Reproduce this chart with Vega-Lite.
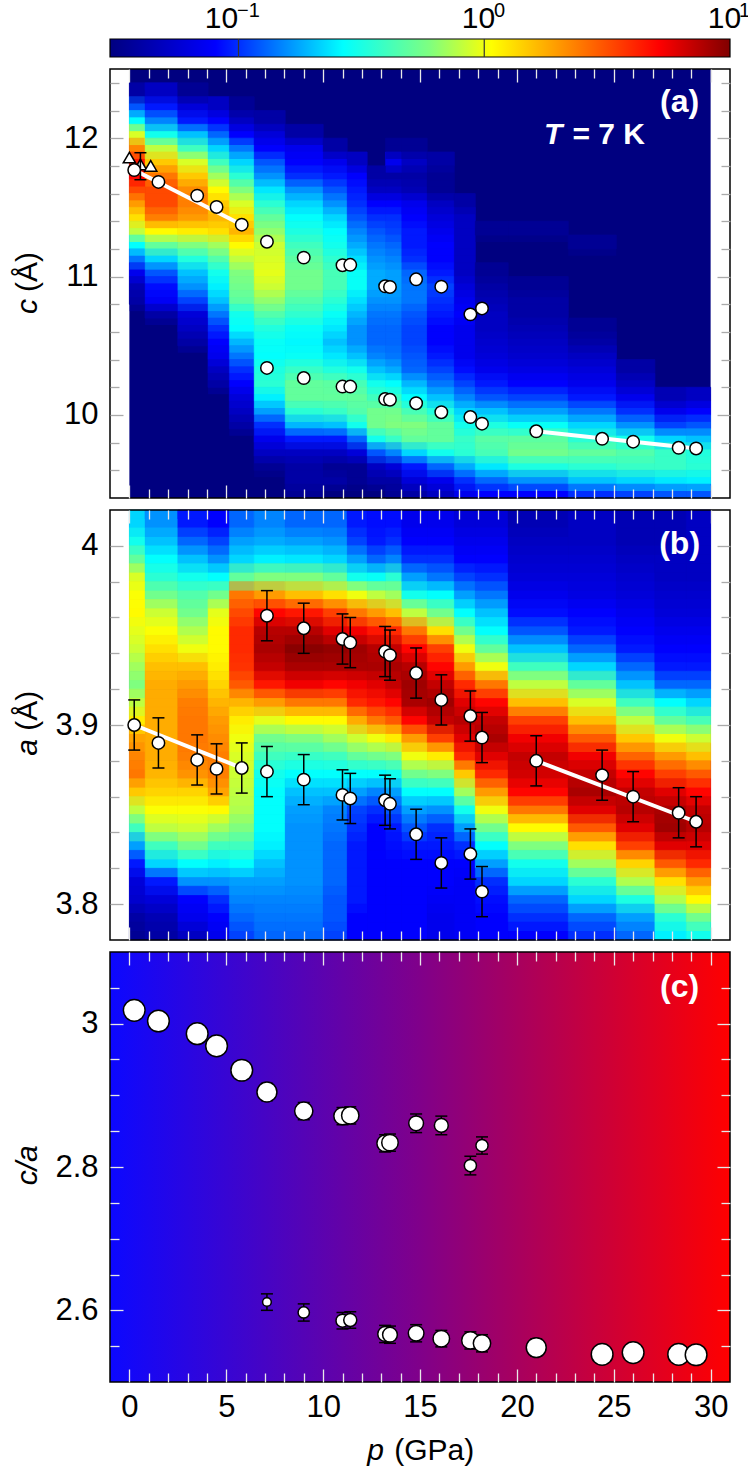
{
"$schema":"https://vega.github.io/schema/vega-lite/v6.json",
"description":"Pressure dependence of lattice parameters at T = 7 K.",
"background":"white",
"padding":{"left":12,"top":1,"right":0,"bottom":0},
"bounds":"flush",
"spacing":12,
"config":{"view":{"stroke":null},"axis":{"domain":false,"grid":false,"labelFont":"Liberation Sans","labelFontSize":31,"labelColor":"#000","title":null,"tickWidth":1.3},"axisX":{"tickColor":"#e8e8e8"},"axisY":{"tickColor":"#aaaaaa"},"text":{"font":"Liberation Sans"}},
"datasets":{
"cols":[{"c":0,"p0":0,"p1":0.81},{"c":1,"p0":0.81,"p1":2.5},{"c":2,"p0":2.5,"p1":4.06},{"c":3,"p0":4.06,"p1":5.16},{"c":4,"p0":5.16,"p1":6.44},{"c":5,"p0":6.44,"p1":8.04},{"c":6,"p0":8.04,"p1":10},{"c":7,"p0":10,"p1":11.24},{"c":8,"p0":11.24,"p1":12.27},{"c":9,"p0":12.27,"p1":13.23},{"c":10,"p0":13.23,"p1":14.06},{"c":11,"p0":14.06,"p1":15.37},{"c":12,"p0":15.37,"p1":16.77},{"c":13,"p0":16.77,"p1":17.85},{"c":14,"p0":17.85,"p1":19.55},{"c":15,"p0":19.55,"p1":22.65},{"c":16,"p0":22.65,"p1":25.13},{"c":17,"p0":25.13,"p1":27.12},{"c":18,"p0":27.12,"p1":28.74},{"c":19,"p0":28.74,"p1":30}],
"rowsA":[{"y":12.35,"y0":12.3,"y1":12.4,"s0":12.25,"s1":12.35},{"y":12.25,"y0":12.2,"y1":12.3,"s0":12.15,"s1":12.25},{"y":12.15,"y0":12.1,"y1":12.2,"s0":12.05,"s1":12.15},{"y":12.05,"y0":12,"y1":12.1,"s0":11.95,"s1":12.05},{"y":11.95,"y0":11.9,"y1":12,"s0":11.85,"s1":11.95},{"y":11.85,"y0":11.8,"y1":11.9,"s0":11.75,"s1":11.85},{"y":11.75,"y0":11.7,"y1":11.8,"s0":11.65,"s1":11.75},{"y":11.65,"y0":11.6,"y1":11.7,"s0":11.55,"s1":11.65},{"y":11.55,"y0":11.5,"y1":11.6,"s0":11.45,"s1":11.55},{"y":11.45,"y0":11.4,"y1":11.5,"s0":11.35,"s1":11.45},{"y":11.35,"y0":11.3,"y1":11.4,"s0":11.25,"s1":11.35},{"y":11.25,"y0":11.2,"y1":11.3,"s0":11.15,"s1":11.25},{"y":11.15,"y0":11.1,"y1":11.2,"s0":11.05,"s1":11.15},{"y":11.05,"y0":11,"y1":11.1,"s0":10.95,"s1":11.05},{"y":10.95,"y0":10.9,"y1":11,"s0":10.85,"s1":10.95},{"y":10.85,"y0":10.8,"y1":10.9,"s0":10.75,"s1":10.85},{"y":10.75,"y0":10.7,"y1":10.8,"s0":10.65,"s1":10.75},{"y":10.65,"y0":10.6,"y1":10.7,"s0":10.55,"s1":10.65},{"y":10.55,"y0":10.5,"y1":10.6,"s0":10.45,"s1":10.55},{"y":10.45,"y0":10.4,"y1":10.5,"s0":10.35,"s1":10.45},{"y":10.35,"y0":10.3,"y1":10.4,"s0":10.25,"s1":10.35},{"y":10.25,"y0":10.2,"y1":10.3,"s0":10.15,"s1":10.25},{"y":10.15,"y0":10.1,"y1":10.2,"s0":10.05,"s1":10.15},{"y":10.05,"y0":10,"y1":10.1,"s0":9.95,"s1":10.05},{"y":9.95,"y0":9.9,"y1":10,"s0":9.85,"s1":9.95},{"y":9.85,"y0":9.8,"y1":9.9,"s0":9.75,"s1":9.85},{"y":9.75,"y0":9.7,"y1":9.8,"s0":9.65,"s1":9.75},{"y":9.65,"y0":9.6,"y1":9.7,"s0":9.55,"s1":9.65},{"y":9.55,"y0":9.5,"y1":9.6,"s0":9.45,"s1":9.55},{"y":9.45,"y0":9.4,"y1":9.5,"s0":9.4,"s1":9.45}],
"rowsB":[{"y":4.015,"y0":4.01,"y1":4.02,"s0":4.005,"s1":4.015},{"y":4.005,"y0":4,"y1":4.01,"s0":3.995,"s1":4.005},{"y":3.995,"y0":3.99,"y1":4,"s0":3.985,"s1":3.995},{"y":3.985,"y0":3.98,"y1":3.99,"s0":3.975,"s1":3.985},{"y":3.975,"y0":3.97,"y1":3.98,"s0":3.965,"s1":3.975},{"y":3.965,"y0":3.96,"y1":3.97,"s0":3.955,"s1":3.965},{"y":3.955,"y0":3.95,"y1":3.96,"s0":3.945,"s1":3.955},{"y":3.945,"y0":3.94,"y1":3.95,"s0":3.935,"s1":3.945},{"y":3.935,"y0":3.93,"y1":3.94,"s0":3.925,"s1":3.935},{"y":3.925,"y0":3.92,"y1":3.93,"s0":3.915,"s1":3.925},{"y":3.915,"y0":3.91,"y1":3.92,"s0":3.905,"s1":3.915},{"y":3.905,"y0":3.9,"y1":3.91,"s0":3.895,"s1":3.905},{"y":3.895,"y0":3.89,"y1":3.9,"s0":3.885,"s1":3.895},{"y":3.885,"y0":3.88,"y1":3.89,"s0":3.875,"s1":3.885},{"y":3.875,"y0":3.87,"y1":3.88,"s0":3.865,"s1":3.875},{"y":3.865,"y0":3.86,"y1":3.87,"s0":3.855,"s1":3.865},{"y":3.855,"y0":3.85,"y1":3.86,"s0":3.845,"s1":3.855},{"y":3.845,"y0":3.84,"y1":3.85,"s0":3.835,"s1":3.845},{"y":3.835,"y0":3.83,"y1":3.84,"s0":3.825,"s1":3.835},{"y":3.825,"y0":3.82,"y1":3.83,"s0":3.815,"s1":3.825},{"y":3.815,"y0":3.81,"y1":3.82,"s0":3.805,"s1":3.815},{"y":3.805,"y0":3.8,"y1":3.81,"s0":3.795,"s1":3.805},{"y":3.795,"y0":3.79,"y1":3.8,"s0":3.785,"s1":3.795},{"y":3.785,"y0":3.78,"y1":3.79,"s0":3.78,"s1":3.785}],
"ptsB":[{"p":0.25,"a":3.9,"lo":3.886,"hi":3.914},{"p":1.5,"a":3.89,"lo":3.876,"hi":3.904},{"p":3.5,"a":3.8805,"lo":3.8665,"hi":3.8945},{"p":4.5,"a":3.8755,"lo":3.8615,"hi":3.8895},{"p":5.8,"a":3.876,"lo":3.862,"hi":3.89},{"p":7.1,"a":3.874,"lo":3.86,"hi":3.888},{"p":9,"a":3.8695,"lo":3.8555,"hi":3.8835},{"p":11,"a":3.861,"lo":3.847,"hi":3.875},{"p":11.4,"a":3.859,"lo":3.845,"hi":3.873},{"p":13.2,"a":3.858,"lo":3.844,"hi":3.872},{"p":13.45,"a":3.856,"lo":3.842,"hi":3.87},{"p":14.8,"a":3.839,"lo":3.825,"hi":3.853},{"p":16.1,"a":3.823,"lo":3.809,"hi":3.837},{"p":17.6,"a":3.828,"lo":3.814,"hi":3.842},{"p":18.2,"a":3.807,"lo":3.793,"hi":3.821},{"p":7.1,"a":3.961,"lo":3.947,"hi":3.975},{"p":9,"a":3.954,"lo":3.94,"hi":3.968},{"p":11,"a":3.948,"lo":3.934,"hi":3.962},{"p":11.4,"a":3.946,"lo":3.932,"hi":3.96},{"p":13.2,"a":3.941,"lo":3.927,"hi":3.955},{"p":13.45,"a":3.939,"lo":3.925,"hi":3.953},{"p":14.8,"a":3.929,"lo":3.915,"hi":3.943},{"p":16.1,"a":3.914,"lo":3.9,"hi":3.928},{"p":17.6,"a":3.905,"lo":3.891,"hi":3.919},{"p":18.2,"a":3.893,"lo":3.879,"hi":3.907},{"p":21,"a":3.88,"lo":3.866,"hi":3.894},{"p":24.4,"a":3.872,"lo":3.858,"hi":3.886},{"p":26,"a":3.86,"lo":3.846,"hi":3.874},{"p":28.35,"a":3.851,"lo":3.837,"hi":3.865},{"p":29.25,"a":3.846,"lo":3.832,"hi":3.86}],
"ptsC":[{"p":0.25,"r":3.0186,"lo":3.0066,"hi":3.0306,"w":25},{"p":1.5,"r":3.0037,"lo":2.9917,"hi":3.0157,"w":25},{"p":3.5,"r":2.986,"lo":2.974,"hi":2.998,"w":25},{"p":4.5,"r":2.969,"lo":2.957,"hi":2.981,"w":25},{"p":5.8,"r":2.935,"lo":2.923,"hi":2.947,"w":25},{"p":7.1,"r":2.9046,"lo":2.8926,"hi":2.9166,"w":23},{"p":9,"r":2.878,"lo":2.866,"hi":2.89,"w":21},{"p":11,"r":2.871,"lo":2.859,"hi":2.883,"w":20},{"p":11.4,"r":2.872,"lo":2.86,"hi":2.884,"w":20},{"p":13.2,"r":2.833,"lo":2.821,"hi":2.845,"w":19},{"p":13.45,"r":2.834,"lo":2.822,"hi":2.846,"w":19},{"p":14.8,"r":2.861,"lo":2.848,"hi":2.874,"w":17},{"p":16.1,"r":2.858,"lo":2.845,"hi":2.871,"w":16},{"p":17.6,"r":2.802,"lo":2.789,"hi":2.815,"w":14},{"p":18.2,"r":2.83,"lo":2.818,"hi":2.842,"w":14},{"p":7.1,"r":2.6116,"lo":2.6,"hi":2.623,"w":10},{"p":9,"r":2.597,"lo":2.585,"hi":2.609,"w":13},{"p":11,"r":2.5856,"lo":2.574,"hi":2.597,"w":15},{"p":11.4,"r":2.5865,"lo":2.575,"hi":2.598,"w":15},{"p":13.2,"r":2.567,"lo":2.555,"hi":2.579,"w":17},{"p":13.45,"r":2.566,"lo":2.554,"hi":2.578,"w":17},{"p":14.8,"r":2.568,"lo":2.556,"hi":2.58,"w":18},{"p":16.1,"r":2.5605,"lo":2.549,"hi":2.572,"w":19},{"p":17.6,"r":2.558,"lo":2.546,"hi":2.57,"w":20},{"p":18.2,"r":2.554,"lo":2.542,"hi":2.566,"w":20},{"p":21,"r":2.548,"lo":2.536,"hi":2.56,"w":23},{"p":24.4,"r":2.5385,"lo":2.527,"hi":2.55,"w":25},{"p":26,"r":2.541,"lo":2.529,"hi":2.553,"w":25},{"p":28.35,"r":2.5385,"lo":2.527,"hi":2.55,"w":25},{"p":29.25,"r":2.538,"lo":2.526,"hi":2.55,"w":25}],
"heatA":[
{"c":0,"y":12.35,"v":0.04},{"c":0,"y":12.25,"v":0.12},{"c":0,"y":12.15,"v":0.27},{"c":0,"y":12.05,"v":0.9},{"c":0,"y":11.95,"v":2.3},{"c":0,"y":11.85,"v":4.5},{"c":0,"y":11.75,"v":5},{"c":0,"y":11.65,"v":3.3},{"c":0,"y":11.55,"v":2},{"c":0,"y":11.45,"v":1.3},{"c":0,"y":11.35,"v":0.8},{"c":0,"y":11.25,"v":0.27},{"c":0,"y":11.15,"v":0.14},{"c":0,"y":11.05,"v":0.07},{"c":0,"y":10.95,"v":0.045},{"c":0,"y":10.85,"v":0.04},
{"c":1,"y":12.35,"v":0.05},{"c":1,"y":12.25,"v":0.09},{"c":1,"y":12.15,"v":0.15},{"c":1,"y":12.05,"v":0.3},{"c":1,"y":11.95,"v":0.8},{"c":1,"y":11.85,"v":1.5},{"c":1,"y":11.75,"v":2.5},{"c":1,"y":11.65,"v":3.3},{"c":1,"y":11.55,"v":3.3},{"c":1,"y":11.45,"v":2.4},{"c":1,"y":11.35,"v":1.1},{"c":1,"y":11.25,"v":0.5},{"c":1,"y":11.15,"v":0.22},{"c":1,"y":11.05,"v":0.12},{"c":1,"y":10.95,"v":0.085},{"c":1,"y":10.85,"v":0.075},{"c":1,"y":10.75,"v":0.04},
{"c":2,"y":12.35,"v":0.035},{"c":2,"y":12.25,"v":0.06},{"c":2,"y":12.15,"v":0.09},{"c":2,"y":12.05,"v":0.2},{"c":2,"y":11.95,"v":0.4},{"c":2,"y":11.85,"v":0.9},{"c":2,"y":11.75,"v":1.5},{"c":2,"y":11.65,"v":2.2},{"c":2,"y":11.55,"v":2.4},{"c":2,"y":11.45,"v":2},{"c":2,"y":11.35,"v":1.2},{"c":2,"y":11.25,"v":0.6},{"c":2,"y":11.15,"v":0.33},{"c":2,"y":11.05,"v":0.2},{"c":2,"y":10.95,"v":0.16},{"c":2,"y":10.85,"v":0.11},{"c":2,"y":10.75,"v":0.06},{"c":2,"y":10.65,"v":0.05},{"c":2,"y":10.55,"v":0.04},
{"c":3,"y":12.25,"v":0.05},{"c":3,"y":12.15,"v":0.08},{"c":3,"y":12.05,"v":0.13},{"c":3,"y":11.95,"v":0.22},{"c":3,"y":11.85,"v":0.4},{"c":3,"y":11.75,"v":0.7},{"c":3,"y":11.65,"v":1.1},{"c":3,"y":11.55,"v":1.5},{"c":3,"y":11.45,"v":1.7},{"c":3,"y":11.35,"v":1.3},{"c":3,"y":11.25,"v":0.7},{"c":3,"y":11.15,"v":0.45},{"c":3,"y":11.05,"v":0.3},{"c":3,"y":10.95,"v":0.25},{"c":3,"y":10.85,"v":0.2},{"c":3,"y":10.75,"v":0.14},{"c":3,"y":10.65,"v":0.1},{"c":3,"y":10.55,"v":0.08},{"c":3,"y":10.45,"v":0.07},{"c":3,"y":10.35,"v":0.05},{"c":3,"y":10.25,"v":0.04},
{"c":4,"y":12.25,"v":0.035},{"c":4,"y":12.15,"v":0.05},{"c":4,"y":12.05,"v":0.08},{"c":4,"y":11.95,"v":0.14},{"c":4,"y":11.85,"v":0.22},{"c":4,"y":11.75,"v":0.35},{"c":4,"y":11.65,"v":0.6},{"c":4,"y":11.55,"v":0.9},{"c":4,"y":11.45,"v":1.3},{"c":4,"y":11.35,"v":1.7},{"c":4,"y":11.25,"v":1.1},{"c":4,"y":11.15,"v":0.8},{"c":4,"y":11.05,"v":0.6},{"c":4,"y":10.95,"v":0.55},{"c":4,"y":10.85,"v":0.48},{"c":4,"y":10.75,"v":0.3},{"c":4,"y":10.65,"v":0.27},{"c":4,"y":10.55,"v":0.19},{"c":4,"y":10.45,"v":0.14},{"c":4,"y":10.35,"v":0.1},{"c":4,"y":10.25,"v":0.08},{"c":4,"y":10.15,"v":0.06},{"c":4,"y":10.05,"v":0.05},{"c":4,"y":9.95,"v":0.04},
{"c":5,"y":12.15,"v":0.04},{"c":5,"y":12.05,"v":0.06},{"c":5,"y":11.95,"v":0.08},{"c":5,"y":11.85,"v":0.12},{"c":5,"y":11.75,"v":0.16},{"c":5,"y":11.65,"v":0.24},{"c":5,"y":11.55,"v":0.35},{"c":5,"y":11.45,"v":0.5},{"c":5,"y":11.35,"v":0.65},{"c":5,"y":11.25,"v":0.85},{"c":5,"y":11.15,"v":0.9},{"c":5,"y":11.05,"v":0.95},{"c":5,"y":10.95,"v":0.85},{"c":5,"y":10.85,"v":0.65},{"c":5,"y":10.75,"v":0.45},{"c":5,"y":10.65,"v":0.33},{"c":5,"y":10.55,"v":0.28},{"c":5,"y":10.45,"v":0.27},{"c":5,"y":10.35,"v":0.32},{"c":5,"y":10.25,"v":0.35},{"c":5,"y":10.15,"v":0.25},{"c":5,"y":10.05,"v":0.17},{"c":5,"y":9.95,"v":0.1},{"c":5,"y":9.85,"v":0.07},{"c":5,"y":9.75,"v":0.05},{"c":5,"y":9.65,"v":0.035},
{"c":6,"y":12.05,"v":0.04},{"c":6,"y":11.95,"v":0.07},{"c":6,"y":11.85,"v":0.08},{"c":6,"y":11.75,"v":0.1},{"c":6,"y":11.65,"v":0.16},{"c":6,"y":11.55,"v":0.22},{"c":6,"y":11.45,"v":0.27},{"c":6,"y":11.35,"v":0.32},{"c":6,"y":11.25,"v":0.4},{"c":6,"y":11.15,"v":0.48},{"c":6,"y":11.05,"v":0.55},{"c":6,"y":10.95,"v":0.55},{"c":6,"y":10.85,"v":0.45},{"c":6,"y":10.75,"v":0.36},{"c":6,"y":10.65,"v":0.28},{"c":6,"y":10.55,"v":0.26},{"c":6,"y":10.45,"v":0.28},{"c":6,"y":10.35,"v":0.38},{"c":6,"y":10.25,"v":0.5},{"c":6,"y":10.15,"v":0.5},{"c":6,"y":10.05,"v":0.35},{"c":6,"y":9.95,"v":0.19},{"c":6,"y":9.85,"v":0.09},{"c":6,"y":9.75,"v":0.05},{"c":6,"y":9.65,"v":0.04},{"c":6,"y":9.55,"v":0.04},{"c":6,"y":9.45,"v":0.035},
{"c":7,"y":11.95,"v":0.04},{"c":7,"y":11.85,"v":0.07},{"c":7,"y":11.75,"v":0.09},{"c":7,"y":11.65,"v":0.12},{"c":7,"y":11.55,"v":0.16},{"c":7,"y":11.45,"v":0.22},{"c":7,"y":11.35,"v":0.27},{"c":7,"y":11.25,"v":0.3},{"c":7,"y":11.15,"v":0.36},{"c":7,"y":11.05,"v":0.42},{"c":7,"y":10.95,"v":0.42},{"c":7,"y":10.85,"v":0.35},{"c":7,"y":10.75,"v":0.28},{"c":7,"y":10.65,"v":0.24},{"c":7,"y":10.55,"v":0.2},{"c":7,"y":10.45,"v":0.24},{"c":7,"y":10.35,"v":0.33},{"c":7,"y":10.25,"v":0.48},{"c":7,"y":10.15,"v":0.5},{"c":7,"y":10.05,"v":0.38},{"c":7,"y":9.95,"v":0.2},{"c":7,"y":9.85,"v":0.09},{"c":7,"y":9.75,"v":0.05},{"c":7,"y":9.65,"v":0.035},{"c":7,"y":9.55,"v":0.04},
{"c":8,"y":11.85,"v":0.05},{"c":8,"y":11.75,"v":0.08},{"c":8,"y":11.65,"v":0.09},{"c":8,"y":11.55,"v":0.1},{"c":8,"y":11.45,"v":0.12},{"c":8,"y":11.35,"v":0.15},{"c":8,"y":11.25,"v":0.18},{"c":8,"y":11.15,"v":0.23},{"c":8,"y":11.05,"v":0.28},{"c":8,"y":10.95,"v":0.28},{"c":8,"y":10.85,"v":0.23},{"c":8,"y":10.75,"v":0.19},{"c":8,"y":10.65,"v":0.16},{"c":8,"y":10.55,"v":0.16},{"c":8,"y":10.45,"v":0.2},{"c":8,"y":10.35,"v":0.3},{"c":8,"y":10.25,"v":0.42},{"c":8,"y":10.15,"v":0.5},{"c":8,"y":10.05,"v":0.45},{"c":8,"y":9.95,"v":0.3},{"c":8,"y":9.85,"v":0.13},{"c":8,"y":9.75,"v":0.06},{"c":8,"y":9.65,"v":0.035},{"c":8,"y":9.55,"v":0.035},
{"c":9,"y":11.75,"v":0.04},{"c":9,"y":11.65,"v":0.05},{"c":9,"y":11.55,"v":0.08},{"c":9,"y":11.45,"v":0.1},{"c":9,"y":11.35,"v":0.12},{"c":9,"y":11.25,"v":0.14},{"c":9,"y":11.15,"v":0.16},{"c":9,"y":11.05,"v":0.18},{"c":9,"y":10.95,"v":0.18},{"c":9,"y":10.85,"v":0.16},{"c":9,"y":10.75,"v":0.14},{"c":9,"y":10.65,"v":0.13},{"c":9,"y":10.55,"v":0.13},{"c":9,"y":10.45,"v":0.15},{"c":9,"y":10.35,"v":0.2},{"c":9,"y":10.25,"v":0.3},{"c":9,"y":10.15,"v":0.4},{"c":9,"y":10.05,"v":0.55},{"c":9,"y":9.95,"v":0.55},{"c":9,"y":9.85,"v":0.3},{"c":9,"y":9.75,"v":0.12},{"c":9,"y":9.65,"v":0.05},{"c":9,"y":9.55,"v":0.04},
{"c":10,"y":11.95,"v":0.035},{"c":10,"y":11.85,"v":0.07},{"c":10,"y":11.75,"v":0.04},{"c":10,"y":11.65,"v":0.05},{"c":10,"y":11.55,"v":0.08},{"c":10,"y":11.45,"v":0.1},{"c":10,"y":11.35,"v":0.11},{"c":10,"y":11.25,"v":0.13},{"c":10,"y":11.15,"v":0.15},{"c":10,"y":11.05,"v":0.17},{"c":10,"y":10.95,"v":0.17},{"c":10,"y":10.85,"v":0.16},{"c":10,"y":10.75,"v":0.14},{"c":10,"y":10.65,"v":0.13},{"c":10,"y":10.55,"v":0.13},{"c":10,"y":10.45,"v":0.14},{"c":10,"y":10.35,"v":0.18},{"c":10,"y":10.25,"v":0.27},{"c":10,"y":10.15,"v":0.38},{"c":10,"y":10.05,"v":0.55},{"c":10,"y":9.95,"v":0.6},{"c":10,"y":9.85,"v":0.38},{"c":10,"y":9.75,"v":0.15},{"c":10,"y":9.65,"v":0.06},{"c":10,"y":9.55,"v":0.04},{"c":10,"y":9.45,"v":0.035},
{"c":11,"y":11.95,"v":0.035},{"c":11,"y":11.85,"v":0.05},{"c":11,"y":11.75,"v":0.04},{"c":11,"y":11.65,"v":0.045},{"c":11,"y":11.55,"v":0.07},{"c":11,"y":11.45,"v":0.08},{"c":11,"y":11.35,"v":0.09},{"c":11,"y":11.25,"v":0.09},{"c":11,"y":11.15,"v":0.1},{"c":11,"y":11.05,"v":0.13},{"c":11,"y":10.95,"v":0.14},{"c":11,"y":10.85,"v":0.14},{"c":11,"y":10.75,"v":0.12},{"c":11,"y":10.65,"v":0.11},{"c":11,"y":10.55,"v":0.11},{"c":11,"y":10.45,"v":0.12},{"c":11,"y":10.35,"v":0.13},{"c":11,"y":10.25,"v":0.19},{"c":11,"y":10.15,"v":0.27},{"c":11,"y":10.05,"v":0.42},{"c":11,"y":9.95,"v":0.6},{"c":11,"y":9.85,"v":0.5},{"c":11,"y":9.75,"v":0.22},{"c":11,"y":9.65,"v":0.09},{"c":11,"y":9.55,"v":0.06},{"c":11,"y":9.45,"v":0.04},
{"c":12,"y":11.85,"v":0.04},{"c":12,"y":11.75,"v":0.035},{"c":12,"y":11.65,"v":0.035},{"c":12,"y":11.55,"v":0.05},{"c":12,"y":11.45,"v":0.06},{"c":12,"y":11.35,"v":0.07},{"c":12,"y":11.25,"v":0.08},{"c":12,"y":11.15,"v":0.08},{"c":12,"y":11.05,"v":0.09},{"c":12,"y":10.95,"v":0.11},{"c":12,"y":10.85,"v":0.1},{"c":12,"y":10.75,"v":0.09},{"c":12,"y":10.65,"v":0.08},{"c":12,"y":10.55,"v":0.08},{"c":12,"y":10.45,"v":0.09},{"c":12,"y":10.35,"v":0.11},{"c":12,"y":10.25,"v":0.14},{"c":12,"y":10.15,"v":0.2},{"c":12,"y":10.05,"v":0.33},{"c":12,"y":9.95,"v":0.5},{"c":12,"y":9.85,"v":0.5},{"c":12,"y":9.75,"v":0.3},{"c":12,"y":9.65,"v":0.13},{"c":12,"y":9.55,"v":0.07},{"c":12,"y":9.45,"v":0.05},
{"c":13,"y":11.55,"v":0.04},{"c":13,"y":11.45,"v":0.05},{"c":13,"y":11.35,"v":0.05},{"c":13,"y":11.25,"v":0.05},{"c":13,"y":11.15,"v":0.05},{"c":13,"y":11.05,"v":0.05},{"c":13,"y":10.95,"v":0.06},{"c":13,"y":10.85,"v":0.07},{"c":13,"y":10.75,"v":0.08},{"c":13,"y":10.65,"v":0.07},{"c":13,"y":10.55,"v":0.07},{"c":13,"y":10.45,"v":0.07},{"c":13,"y":10.35,"v":0.085},{"c":13,"y":10.25,"v":0.11},{"c":13,"y":10.15,"v":0.15},{"c":13,"y":10.05,"v":0.22},{"c":13,"y":9.95,"v":0.3},{"c":13,"y":9.85,"v":0.38},{"c":13,"y":9.75,"v":0.35},{"c":13,"y":9.65,"v":0.18},{"c":13,"y":9.55,"v":0.1},{"c":13,"y":9.45,"v":0.07},
{"c":14,"y":11.35,"v":0.035},{"c":14,"y":11.05,"v":0.035},{"c":14,"y":10.95,"v":0.04},{"c":14,"y":10.85,"v":0.045},{"c":14,"y":10.75,"v":0.05},{"c":14,"y":10.65,"v":0.05},{"c":14,"y":10.55,"v":0.055},{"c":14,"y":10.45,"v":0.06},{"c":14,"y":10.35,"v":0.07},{"c":14,"y":10.25,"v":0.09},{"c":14,"y":10.15,"v":0.12},{"c":14,"y":10.05,"v":0.2},{"c":14,"y":9.95,"v":0.32},{"c":14,"y":9.85,"v":0.47},{"c":14,"y":9.75,"v":0.42},{"c":14,"y":9.65,"v":0.24},{"c":14,"y":9.55,"v":0.13},{"c":14,"y":9.45,"v":0.08},
{"c":15,"y":11.35,"v":0.035},{"c":15,"y":10.95,"v":0.035},{"c":15,"y":10.85,"v":0.04},{"c":15,"y":10.75,"v":0.04},{"c":15,"y":10.65,"v":0.045},{"c":15,"y":10.55,"v":0.05},{"c":15,"y":10.45,"v":0.055},{"c":15,"y":10.35,"v":0.065},{"c":15,"y":10.25,"v":0.08},{"c":15,"y":10.15,"v":0.11},{"c":15,"y":10.05,"v":0.17},{"c":15,"y":9.95,"v":0.28},{"c":15,"y":9.85,"v":0.48},{"c":15,"y":9.75,"v":0.55},{"c":15,"y":9.65,"v":0.32},{"c":15,"y":9.55,"v":0.16},{"c":15,"y":9.45,"v":0.08},
{"c":16,"y":11.25,"v":0.035},{"c":16,"y":10.65,"v":0.035},{"c":16,"y":10.55,"v":0.04},{"c":16,"y":10.45,"v":0.05},{"c":16,"y":10.35,"v":0.06},{"c":16,"y":10.25,"v":0.07},{"c":16,"y":10.15,"v":0.09},{"c":16,"y":10.05,"v":0.14},{"c":16,"y":9.95,"v":0.22},{"c":16,"y":9.85,"v":0.35},{"c":16,"y":9.75,"v":0.5},{"c":16,"y":9.65,"v":0.35},{"c":16,"y":9.55,"v":0.2},{"c":16,"y":9.45,"v":0.1},
{"c":17,"y":10.35,"v":0.04},{"c":17,"y":10.25,"v":0.05},{"c":17,"y":10.15,"v":0.07},{"c":17,"y":10.05,"v":0.1},{"c":17,"y":9.95,"v":0.16},{"c":17,"y":9.85,"v":0.3},{"c":17,"y":9.75,"v":0.45},{"c":17,"y":9.65,"v":0.38},{"c":17,"y":9.55,"v":0.22},{"c":17,"y":9.45,"v":0.11},
{"c":18,"y":10.15,"v":0.045},{"c":18,"y":10.05,"v":0.07},{"c":18,"y":9.95,"v":0.11},{"c":18,"y":9.85,"v":0.22},{"c":18,"y":9.75,"v":0.38},{"c":18,"y":9.65,"v":0.38},{"c":18,"y":9.55,"v":0.24},{"c":18,"y":9.45,"v":0.12},
{"c":19,"y":10.15,"v":0.05},{"c":19,"y":10.05,"v":0.08},{"c":19,"y":9.95,"v":0.12},{"c":19,"y":9.85,"v":0.2},{"c":19,"y":9.75,"v":0.33},{"c":19,"y":9.65,"v":0.35},{"c":19,"y":9.55,"v":0.25},{"c":19,"y":9.45,"v":0.12}
],
"heatB":[
{"c":0,"y":4.015,"v":0.22},{"c":0,"y":4.005,"v":0.3},{"c":0,"y":3.995,"v":0.5},{"c":0,"y":3.985,"v":0.9},{"c":0,"y":3.975,"v":1.05},{"c":0,"y":3.965,"v":1.1},{"c":0,"y":3.955,"v":0.95},{"c":0,"y":3.945,"v":0.85},{"c":0,"y":3.935,"v":0.7},{"c":0,"y":3.925,"v":0.6},{"c":0,"y":3.915,"v":0.8},{"c":0,"y":3.905,"v":1.2},{"c":0,"y":3.895,"v":1.9},{"c":0,"y":3.885,"v":2.3},{"c":0,"y":3.875,"v":2.5},{"c":0,"y":3.865,"v":1.5},{"c":0,"y":3.855,"v":0.8},{"c":0,"y":3.845,"v":0.4},{"c":0,"y":3.835,"v":0.17},{"c":0,"y":3.825,"v":0.09},{"c":0,"y":3.815,"v":0.06},{"c":0,"y":3.805,"v":0.055},{"c":0,"y":3.795,"v":0.04},{"c":0,"y":3.785,"v":0.035},
{"c":1,"y":4.015,"v":0.16},{"c":1,"y":4.005,"v":0.2},{"c":1,"y":3.995,"v":0.27},{"c":1,"y":3.985,"v":0.35},{"c":1,"y":3.975,"v":0.55},{"c":1,"y":3.965,"v":0.85},{"c":1,"y":3.955,"v":1.05},{"c":1,"y":3.945,"v":1.3},{"c":1,"y":3.935,"v":1.6},{"c":1,"y":3.925,"v":1.8},{"c":1,"y":3.915,"v":1.8},{"c":1,"y":3.905,"v":1.8},{"c":1,"y":3.895,"v":1.8},{"c":1,"y":3.885,"v":1.8},{"c":1,"y":3.875,"v":1.7},{"c":1,"y":3.865,"v":1.4},{"c":1,"y":3.855,"v":1.05},{"c":1,"y":3.845,"v":0.8},{"c":1,"y":3.835,"v":0.4},{"c":1,"y":3.825,"v":0.22},{"c":1,"y":3.815,"v":0.09},{"c":1,"y":3.805,"v":0.06},{"c":1,"y":3.795,"v":0.045},{"c":1,"y":3.785,"v":0.04},
{"c":2,"y":4.015,"v":0.09},{"c":2,"y":4.005,"v":0.13},{"c":2,"y":3.995,"v":0.2},{"c":2,"y":3.985,"v":0.3},{"c":2,"y":3.975,"v":0.45},{"c":2,"y":3.965,"v":0.55},{"c":2,"y":3.955,"v":0.75},{"c":2,"y":3.945,"v":1},{"c":2,"y":3.935,"v":1.6},{"c":2,"y":3.925,"v":2},{"c":2,"y":3.915,"v":2.4},{"c":2,"y":3.905,"v":2.5},{"c":2,"y":3.895,"v":2.5},{"c":2,"y":3.885,"v":2.4},{"c":2,"y":3.875,"v":2.1},{"c":2,"y":3.865,"v":1.4},{"c":2,"y":3.855,"v":1.05},{"c":2,"y":3.845,"v":0.85},{"c":2,"y":3.835,"v":0.55},{"c":2,"y":3.825,"v":0.27},{"c":2,"y":3.815,"v":0.16},{"c":2,"y":3.805,"v":0.08},{"c":2,"y":3.795,"v":0.07},{"c":2,"y":3.785,"v":0.05},
{"c":3,"y":4.015,"v":0.08},{"c":3,"y":4.005,"v":0.11},{"c":3,"y":3.995,"v":0.16},{"c":3,"y":3.985,"v":0.27},{"c":3,"y":3.975,"v":0.55},{"c":3,"y":3.965,"v":0.95},{"c":3,"y":3.955,"v":1.1},{"c":3,"y":3.945,"v":1.1},{"c":3,"y":3.935,"v":1.2},{"c":3,"y":3.925,"v":1.4},{"c":3,"y":3.915,"v":1.7},{"c":3,"y":3.905,"v":2},{"c":3,"y":3.895,"v":2.2},{"c":3,"y":3.885,"v":2.4},{"c":3,"y":3.875,"v":2.4},{"c":3,"y":3.865,"v":1.9},{"c":3,"y":3.855,"v":1.1},{"c":3,"y":3.845,"v":0.7},{"c":3,"y":3.835,"v":0.4},{"c":3,"y":3.825,"v":0.25},{"c":3,"y":3.815,"v":0.16},{"c":3,"y":3.805,"v":0.1},{"c":3,"y":3.795,"v":0.08},{"c":3,"y":3.785,"v":0.07},
{"c":4,"y":4.015,"v":0.13},{"c":4,"y":4.005,"v":0.17},{"c":4,"y":3.995,"v":0.22},{"c":4,"y":3.985,"v":0.5},{"c":4,"y":3.975,"v":2.5},{"c":4,"y":3.965,"v":3.3},{"c":4,"y":3.955,"v":4},{"c":4,"y":3.945,"v":4},{"c":4,"y":3.935,"v":3.8},{"c":4,"y":3.925,"v":3},{"c":4,"y":3.915,"v":1.7},{"c":4,"y":3.905,"v":1.2},{"c":4,"y":3.895,"v":1},{"c":4,"y":3.885,"v":0.9},{"c":4,"y":3.875,"v":0.85},{"c":4,"y":3.865,"v":0.8},{"c":4,"y":3.855,"v":0.75},{"c":4,"y":3.845,"v":0.6},{"c":4,"y":3.835,"v":0.4},{"c":4,"y":3.825,"v":0.27},{"c":4,"y":3.815,"v":0.17},{"c":4,"y":3.805,"v":0.15},{"c":4,"y":3.795,"v":0.13},{"c":4,"y":3.785,"v":0.11},
{"c":5,"y":4.015,"v":0.15},{"c":5,"y":4.005,"v":0.18},{"c":5,"y":3.995,"v":0.25},{"c":5,"y":3.985,"v":0.6},{"c":5,"y":3.975,"v":2},{"c":5,"y":3.965,"v":5},{"c":5,"y":3.955,"v":7.5},{"c":5,"y":3.945,"v":8},{"c":5,"y":3.935,"v":7},{"c":5,"y":3.925,"v":4.5},{"c":5,"y":3.915,"v":2},{"c":5,"y":3.905,"v":0.95},{"c":5,"y":3.895,"v":0.55},{"c":5,"y":3.885,"v":0.4},{"c":5,"y":3.875,"v":0.3},{"c":5,"y":3.865,"v":0.27},{"c":5,"y":3.855,"v":0.27},{"c":5,"y":3.845,"v":0.27},{"c":5,"y":3.835,"v":0.25},{"c":5,"y":3.825,"v":0.2},{"c":5,"y":3.815,"v":0.17},{"c":5,"y":3.805,"v":0.15},{"c":5,"y":3.795,"v":0.14},{"c":5,"y":3.785,"v":0.13},
{"c":6,"y":4.015,"v":0.13},{"c":6,"y":4.005,"v":0.17},{"c":6,"y":3.995,"v":0.24},{"c":6,"y":3.985,"v":0.6},{"c":6,"y":3.975,"v":1.6},{"c":6,"y":3.965,"v":4.5},{"c":6,"y":3.955,"v":7.5},{"c":6,"y":3.945,"v":9.5},{"c":6,"y":3.935,"v":8},{"c":6,"y":3.925,"v":5.5},{"c":6,"y":3.915,"v":2.5},{"c":6,"y":3.905,"v":1.1},{"c":6,"y":3.895,"v":0.6},{"c":6,"y":3.885,"v":0.38},{"c":6,"y":3.875,"v":0.27},{"c":6,"y":3.865,"v":0.2},{"c":6,"y":3.855,"v":0.17},{"c":6,"y":3.845,"v":0.16},{"c":6,"y":3.835,"v":0.16},{"c":6,"y":3.825,"v":0.16},{"c":6,"y":3.815,"v":0.16},{"c":6,"y":3.805,"v":0.15},{"c":6,"y":3.795,"v":0.14},{"c":6,"y":3.785,"v":0.13},
{"c":7,"y":4.015,"v":0.13},{"c":7,"y":4.005,"v":0.16},{"c":7,"y":3.995,"v":0.22},{"c":7,"y":3.985,"v":0.5},{"c":7,"y":3.975,"v":1.3},{"c":7,"y":3.965,"v":3.5},{"c":7,"y":3.955,"v":6},{"c":7,"y":3.945,"v":9},{"c":7,"y":3.935,"v":8},{"c":7,"y":3.925,"v":5},{"c":7,"y":3.915,"v":2.5},{"c":7,"y":3.905,"v":1.1},{"c":7,"y":3.895,"v":0.7},{"c":7,"y":3.885,"v":0.4},{"c":7,"y":3.875,"v":0.27},{"c":7,"y":3.865,"v":0.2},{"c":7,"y":3.855,"v":0.15},{"c":7,"y":3.845,"v":0.14},{"c":7,"y":3.835,"v":0.13},{"c":7,"y":3.825,"v":0.13},{"c":7,"y":3.815,"v":0.13},{"c":7,"y":3.805,"v":0.12},{"c":7,"y":3.795,"v":0.12},{"c":7,"y":3.785,"v":0.11},
{"c":8,"y":4.015,"v":0.09},{"c":8,"y":4.005,"v":0.11},{"c":8,"y":3.995,"v":0.17},{"c":8,"y":3.985,"v":0.3},{"c":8,"y":3.975,"v":1},{"c":8,"y":3.965,"v":2.5},{"c":8,"y":3.955,"v":5.5},{"c":8,"y":3.945,"v":8.5},{"c":8,"y":3.935,"v":8},{"c":8,"y":3.925,"v":5.5},{"c":8,"y":3.915,"v":4},{"c":8,"y":3.905,"v":1.8},{"c":8,"y":3.895,"v":0.85},{"c":8,"y":3.885,"v":0.5},{"c":8,"y":3.875,"v":0.27},{"c":8,"y":3.865,"v":0.17},{"c":8,"y":3.855,"v":0.11},{"c":8,"y":3.845,"v":0.1},{"c":8,"y":3.835,"v":0.09},{"c":8,"y":3.825,"v":0.09},{"c":8,"y":3.815,"v":0.09},{"c":8,"y":3.805,"v":0.09},{"c":8,"y":3.795,"v":0.08},{"c":8,"y":3.785,"v":0.08},
{"c":9,"y":4.015,"v":0.085},{"c":9,"y":4.005,"v":0.09},{"c":9,"y":3.995,"v":0.13},{"c":9,"y":3.985,"v":0.28},{"c":9,"y":3.975,"v":0.8},{"c":9,"y":3.965,"v":2},{"c":9,"y":3.955,"v":4.5},{"c":9,"y":3.945,"v":7.5},{"c":9,"y":3.935,"v":8},{"c":9,"y":3.925,"v":6},{"c":9,"y":3.915,"v":4.5},{"c":9,"y":3.905,"v":2.5},{"c":9,"y":3.895,"v":1},{"c":9,"y":3.885,"v":0.55},{"c":9,"y":3.875,"v":0.27},{"c":9,"y":3.865,"v":0.15},{"c":9,"y":3.855,"v":0.1},{"c":9,"y":3.845,"v":0.08},{"c":9,"y":3.835,"v":0.08},{"c":9,"y":3.825,"v":0.08},{"c":9,"y":3.815,"v":0.08},{"c":9,"y":3.805,"v":0.08},{"c":9,"y":3.795,"v":0.08},{"c":9,"y":3.785,"v":0.08},
{"c":10,"y":4.015,"v":0.085},{"c":10,"y":4.005,"v":0.1},{"c":10,"y":3.995,"v":0.15},{"c":10,"y":3.985,"v":0.35},{"c":10,"y":3.975,"v":0.7},{"c":10,"y":3.965,"v":1.6},{"c":10,"y":3.955,"v":4},{"c":10,"y":3.945,"v":7},{"c":10,"y":3.935,"v":8},{"c":10,"y":3.925,"v":7},{"c":10,"y":3.915,"v":5},{"c":10,"y":3.905,"v":3},{"c":10,"y":3.895,"v":1.2},{"c":10,"y":3.885,"v":0.6},{"c":10,"y":3.875,"v":0.3},{"c":10,"y":3.865,"v":0.17},{"c":10,"y":3.855,"v":0.12},{"c":10,"y":3.845,"v":0.09},{"c":10,"y":3.835,"v":0.085},{"c":10,"y":3.825,"v":0.08},{"c":10,"y":3.815,"v":0.08},{"c":10,"y":3.805,"v":0.08},{"c":10,"y":3.795,"v":0.08},{"c":10,"y":3.785,"v":0.08},
{"c":11,"y":4.015,"v":0.07},{"c":11,"y":4.005,"v":0.08},{"c":11,"y":3.995,"v":0.1},{"c":11,"y":3.985,"v":0.17},{"c":11,"y":3.975,"v":0.3},{"c":11,"y":3.965,"v":0.8},{"c":11,"y":3.955,"v":2.5},{"c":11,"y":3.945,"v":5},{"c":11,"y":3.935,"v":7.5},{"c":11,"y":3.925,"v":8.5},{"c":11,"y":3.915,"v":8},{"c":11,"y":3.905,"v":5},{"c":11,"y":3.895,"v":2},{"c":11,"y":3.885,"v":1},{"c":11,"y":3.875,"v":0.55},{"c":11,"y":3.865,"v":0.27},{"c":11,"y":3.855,"v":0.17},{"c":11,"y":3.845,"v":0.12},{"c":11,"y":3.835,"v":0.09},{"c":11,"y":3.825,"v":0.08},{"c":11,"y":3.815,"v":0.08},{"c":11,"y":3.805,"v":0.08},{"c":11,"y":3.795,"v":0.08},{"c":11,"y":3.785,"v":0.08},
{"c":12,"y":4.015,"v":0.07},{"c":12,"y":4.005,"v":0.08},{"c":12,"y":3.995,"v":0.1},{"c":12,"y":3.985,"v":0.14},{"c":12,"y":3.975,"v":0.27},{"c":12,"y":3.965,"v":0.55},{"c":12,"y":3.955,"v":1.3},{"c":12,"y":3.945,"v":3.5},{"c":12,"y":3.935,"v":5},{"c":12,"y":3.925,"v":7},{"c":12,"y":3.915,"v":8.5},{"c":12,"y":3.905,"v":7},{"c":12,"y":3.895,"v":3.5},{"c":12,"y":3.885,"v":1.2},{"c":12,"y":3.875,"v":0.6},{"c":12,"y":3.865,"v":0.27},{"c":12,"y":3.855,"v":0.16},{"c":12,"y":3.845,"v":0.1},{"c":12,"y":3.835,"v":0.09},{"c":12,"y":3.825,"v":0.08},{"c":12,"y":3.815,"v":0.08},{"c":12,"y":3.805,"v":0.075},{"c":12,"y":3.795,"v":0.07},{"c":12,"y":3.785,"v":0.07},
{"c":13,"y":4.015,"v":0.06},{"c":13,"y":4.005,"v":0.07},{"c":13,"y":3.995,"v":0.08},{"c":13,"y":3.985,"v":0.11},{"c":13,"y":3.975,"v":0.17},{"c":13,"y":3.965,"v":0.27},{"c":13,"y":3.955,"v":0.55},{"c":13,"y":3.945,"v":1},{"c":13,"y":3.935,"v":2},{"c":13,"y":3.925,"v":4},{"c":13,"y":3.915,"v":6},{"c":13,"y":3.905,"v":7.5},{"c":13,"y":3.895,"v":6},{"c":13,"y":3.885,"v":4},{"c":13,"y":3.875,"v":1.5},{"c":13,"y":3.865,"v":0.7},{"c":13,"y":3.855,"v":0.3},{"c":13,"y":3.845,"v":0.17},{"c":13,"y":3.835,"v":0.1},{"c":13,"y":3.825,"v":0.08},{"c":13,"y":3.815,"v":0.075},{"c":13,"y":3.805,"v":0.075},{"c":13,"y":3.795,"v":0.075},{"c":13,"y":3.785,"v":0.075},
{"c":14,"y":4.015,"v":0.06},{"c":14,"y":4.005,"v":0.07},{"c":14,"y":3.995,"v":0.08},{"c":14,"y":3.985,"v":0.1},{"c":14,"y":3.975,"v":0.14},{"c":14,"y":3.965,"v":0.2},{"c":14,"y":3.955,"v":0.27},{"c":14,"y":3.945,"v":0.5},{"c":14,"y":3.935,"v":1},{"c":14,"y":3.925,"v":2.5},{"c":14,"y":3.915,"v":5},{"c":14,"y":3.905,"v":7},{"c":14,"y":3.895,"v":8},{"c":14,"y":3.885,"v":6},{"c":14,"y":3.875,"v":4},{"c":14,"y":3.865,"v":2},{"c":14,"y":3.855,"v":1},{"c":14,"y":3.845,"v":0.55},{"c":14,"y":3.835,"v":0.27},{"c":14,"y":3.825,"v":0.17},{"c":14,"y":3.815,"v":0.1},{"c":14,"y":3.805,"v":0.085},{"c":14,"y":3.795,"v":0.08},{"c":14,"y":3.785,"v":0.08},
{"c":15,"y":4.015,"v":0.045},{"c":15,"y":4.005,"v":0.05},{"c":15,"y":3.995,"v":0.055},{"c":15,"y":3.985,"v":0.06},{"c":15,"y":3.975,"v":0.07},{"c":15,"y":3.965,"v":0.085},{"c":15,"y":3.955,"v":0.12},{"c":15,"y":3.945,"v":0.2},{"c":15,"y":3.935,"v":0.4},{"c":15,"y":3.925,"v":0.8},{"c":15,"y":3.915,"v":1.6},{"c":15,"y":3.905,"v":3.5},{"c":15,"y":3.895,"v":5.5},{"c":15,"y":3.885,"v":7},{"c":15,"y":3.875,"v":6.5},{"c":15,"y":3.865,"v":5},{"c":15,"y":3.855,"v":2.5},{"c":15,"y":3.845,"v":1.1},{"c":15,"y":3.835,"v":0.6},{"c":15,"y":3.825,"v":0.3},{"c":15,"y":3.815,"v":0.22},{"c":15,"y":3.805,"v":0.13},{"c":15,"y":3.795,"v":0.1},{"c":15,"y":3.785,"v":0.08},
{"c":16,"y":4.015,"v":0.05},{"c":16,"y":4.005,"v":0.05},{"c":16,"y":3.995,"v":0.055},{"c":16,"y":3.985,"v":0.06},{"c":16,"y":3.975,"v":0.065},{"c":16,"y":3.965,"v":0.08},{"c":16,"y":3.955,"v":0.09},{"c":16,"y":3.945,"v":0.13},{"c":16,"y":3.935,"v":0.22},{"c":16,"y":3.925,"v":0.5},{"c":16,"y":3.915,"v":0.9},{"c":16,"y":3.905,"v":1.6},{"c":16,"y":3.895,"v":3},{"c":16,"y":3.885,"v":5.5},{"c":16,"y":3.875,"v":7},{"c":16,"y":3.865,"v":8},{"c":16,"y":3.855,"v":6},{"c":16,"y":3.845,"v":3},{"c":16,"y":3.835,"v":1.3},{"c":16,"y":3.825,"v":0.7},{"c":16,"y":3.815,"v":0.35},{"c":16,"y":3.805,"v":0.22},{"c":16,"y":3.795,"v":0.13},{"c":16,"y":3.785,"v":0.1},
{"c":17,"y":4.015,"v":0.045},{"c":17,"y":4.005,"v":0.045},{"c":17,"y":3.995,"v":0.05},{"c":17,"y":3.985,"v":0.055},{"c":17,"y":3.975,"v":0.06},{"c":17,"y":3.965,"v":0.07},{"c":17,"y":3.955,"v":0.08},{"c":17,"y":3.945,"v":0.09},{"c":17,"y":3.935,"v":0.13},{"c":17,"y":3.925,"v":0.2},{"c":17,"y":3.915,"v":0.4},{"c":17,"y":3.905,"v":0.8},{"c":17,"y":3.895,"v":1.5},{"c":17,"y":3.885,"v":2.8},{"c":17,"y":3.875,"v":5},{"c":17,"y":3.865,"v":7},{"c":17,"y":3.855,"v":7.5},{"c":17,"y":3.845,"v":6},{"c":17,"y":3.835,"v":3.5},{"c":17,"y":3.825,"v":1.4},{"c":17,"y":3.815,"v":0.75},{"c":17,"y":3.805,"v":0.32},{"c":17,"y":3.795,"v":0.17},{"c":17,"y":3.785,"v":0.13},
{"c":18,"y":4.015,"v":0.045},{"c":18,"y":4.005,"v":0.045},{"c":18,"y":3.995,"v":0.05},{"c":18,"y":3.985,"v":0.05},{"c":18,"y":3.975,"v":0.055},{"c":18,"y":3.965,"v":0.06},{"c":18,"y":3.955,"v":0.07},{"c":18,"y":3.945,"v":0.08},{"c":18,"y":3.935,"v":0.09},{"c":18,"y":3.925,"v":0.13},{"c":18,"y":3.915,"v":0.27},{"c":18,"y":3.905,"v":0.5},{"c":18,"y":3.895,"v":1},{"c":18,"y":3.885,"v":2},{"c":18,"y":3.875,"v":3.5},{"c":18,"y":3.865,"v":6},{"c":18,"y":3.855,"v":8},{"c":18,"y":3.845,"v":8.5},{"c":18,"y":3.835,"v":6},{"c":18,"y":3.825,"v":3},{"c":18,"y":3.815,"v":1.3},{"c":18,"y":3.805,"v":0.75},{"c":18,"y":3.795,"v":0.35},{"c":18,"y":3.785,"v":0.25},
{"c":19,"y":4.015,"v":0.05},{"c":19,"y":4.005,"v":0.05},{"c":19,"y":3.995,"v":0.05},{"c":19,"y":3.985,"v":0.05},{"c":19,"y":3.975,"v":0.055},{"c":19,"y":3.965,"v":0.06},{"c":19,"y":3.955,"v":0.07},{"c":19,"y":3.945,"v":0.08},{"c":19,"y":3.935,"v":0.09},{"c":19,"y":3.925,"v":0.13},{"c":19,"y":3.915,"v":0.22},{"c":19,"y":3.905,"v":0.42},{"c":19,"y":3.895,"v":0.85},{"c":19,"y":3.885,"v":1.6},{"c":19,"y":3.875,"v":3},{"c":19,"y":3.865,"v":5},{"c":19,"y":3.855,"v":7},{"c":19,"y":3.845,"v":7.5},{"c":19,"y":3.835,"v":6},{"c":19,"y":3.825,"v":4},{"c":19,"y":3.815,"v":2},{"c":19,"y":3.805,"v":1.1},{"c":19,"y":3.795,"v":0.55},{"c":19,"y":3.785,"v":0.3}
]
},
"vconcat":[
{"width":620,"height":18,
"layer":[
{"data":{"values":[{"v":0.03,"v2":10}]},"mark":{"type":"rect","stroke":"#000","strokeWidth":1.2,"color":{"gradient":"linear","x1":0,"y1":0,"x2":1,"y2":0,"stops":[{"offset":0,"color":"#000080"},{"offset":0.17,"color":"#0000ff"},{"offset":0.376,"color":"#00ffff"},{"offset":0.516,"color":"#7fff7f"},{"offset":0.615,"color":"#ffff00"},{"offset":0.75,"color":"#ff8000"},{"offset":0.885,"color":"#ff0000"},{"offset":1,"color":"#800000"}]}},"encoding":{"x":{"field":"v","type":"quantitative","scale":{"type":"log","domain":[0.03,10]},"axis":null},"x2":{"field":"v2"}}},
{"data":{"values":[{"v":0.1},{"v":1}]},"mark":{"type":"rule","color":"#333","strokeWidth":1.2},"encoding":{"x":{"field":"v","type":"quantitative","scale":{"type":"log","domain":[0.03,10]},"axis":null}}},
{"data":{"values":[{"v":0.0853,"t":"10"},{"v":0.948,"t":"10"},{"v":9.5,"t":"10"}]},"mark":{"type":"text","fontSize":30,"baseline":"alphabetic","dy":-20,"color":"#000"},"encoding":{"x":{"field":"v","type":"quantitative","scale":{"type":"log","domain":[0.03,10]},"axis":null},"text":{"field":"t"}}},
{"data":{"values":[{"v":0.0986,"t":"−1"},{"v":1.095,"t":"0"},{"v":10.88,"t":"1"}]},"mark":{"type":"text","fontSize":20,"align":"left","baseline":"alphabetic","dy":-31,"color":"#000"},"encoding":{"x":{"field":"v","type":"quantitative","scale":{"type":"log","domain":[0.03,10]},"axis":null},"text":{"field":"t"}}}
]},
{"width":620,"height":429,
"layer":[
{"data":{"values":[{"p0":0,"p1":30,"y0":9.4,"y1":12.5,"v":0.03}]},"mark":{"type":"rect"},"encoding":{
"x":{"field":"p0","type":"quantitative","scale":{"domain":[-1,31]},"axis":{"orient":"bottom","zindex":1,"values":[0,5,10,15,20,25,30],"tickSize":-13,"labels":false}},"x2":{"field":"p1"},
"y":{"field":"y0","type":"quantitative","scale":{"domain":[9.4,12.5]},"axis":{"orient":"left","zindex":1,"values":[10,11,12],"tickSize":-13,"labelPadding":25,"format":"d"}},"y2":{"field":"y1"},
"color":{"field":"v","type":"quantitative","legend":null,"scale":{"type":"log","interpolate":"rgb","domain":[0.03,0.0805,0.267,0.6,1.07,2.37,5.13,10],"range":["#000080","#0000ff","#00ffff","#7fff7f","#ffff00","#ff8000","#ff0000","#800000"]}}}},
{"data":{"name":"heatA"},"transform":[{"lookup":"c","from":{"data":{"name":"cols"},"key":"c","fields":["p0","p1"]}},{"lookup":"y","from":{"data":{"name":"rowsA"},"key":"y","fields":["y0","y1"]}}],"mark":{"type":"rect","strokeWidth":0.8},"encoding":{
"x":{"field":"p0","type":"quantitative","scale":{"domain":[-1,31]},"axis":{"orient":"bottom","zindex":1,"values":[1,2,3,4,6,7,8,9,11,12,13,14,16,17,18,19,21,22,23,24,26,27,28,29],"tickSize":-9,"labels":false}},"x2":{"field":"p1"},
"y":{"field":"y0","type":"quantitative","scale":{"domain":[9.4,12.5]},"axis":{"orient":"left","zindex":1,"values":[9.6,9.8,10.2,10.4,10.6,10.8,11.2,11.4,11.6,11.8,12.2,12.4],"tickSize":-9,"labels":false}},"y2":{"field":"y1"},
"color":{"field":"v","type":"quantitative","legend":null,"scale":{"type":"log","interpolate":"rgb","domain":[0.03,0.0805,0.267,0.6,1.07,2.37,5.13,10],"range":["#000080","#0000ff","#00ffff","#7fff7f","#ffff00","#ff8000","#ff0000","#800000"]}},
"stroke":{"field":"v","type":"quantitative","legend":null,"scale":{"type":"log","interpolate":"rgb","domain":[0.03,0.0805,0.267,0.6,1.07,2.37,5.13,10],"range":["#000080","#0000ff","#00ffff","#7fff7f","#ffff00","#ff8000","#ff0000","#800000"]}}}},
{"data":{"name":"heatA"},"transform":[{"lookup":"c","from":{"data":{"name":"cols"},"key":"c","fields":["p0","p1"]}},{"lookup":"y","from":{"data":{"name":"rowsA"},"key":"y","fields":["s0","s1"]}}],"mark":{"type":"rect","opacity":0.5},"encoding":{
"x":{"field":"p0","type":"quantitative","scale":{"domain":[-1,31]},"axis":null},"x2":{"field":"p1"},
"y":{"field":"s0","type":"quantitative","scale":{"domain":[9.4,12.5]},"axis":null},"y2":{"field":"s1"},
"color":{"field":"v","type":"quantitative","legend":null,"scale":{"type":"log","interpolate":"rgb","domain":[0.03,0.0805,0.267,0.6,1.07,2.37,5.13,10],"range":["#000080","#0000ff","#00ffff","#7fff7f","#ffff00","#ff8000","#ff0000","#800000"]}}}},
{"data":{"values":[{"p":0.25,"c":11.77,"g":1},{"p":5.8,"c":11.375,"g":1},{"p":21,"c":9.882,"g":2},{"p":29.25,"c":9.758,"g":2}]},"mark":{"type":"line","color":"#fff","strokeWidth":4},"encoding":{
"x":{"field":"p","type":"quantitative","scale":{"domain":[-1,31]},"axis":{"orient":"top","zindex":1,"values":[0,5,10,15,20,25,30],"tickSize":-13,"labels":false}},
"y":{"field":"c","type":"quantitative","scale":{"domain":[9.4,12.5]},"axis":{"orient":"right","zindex":1,"values":[10,11,12],"tickSize":-13,"labels":false}},"detail":{"field":"g"}}},
{"data":{"values":[{"p":0,"c":11.86},{"p":0.57,"c":11.81},{"p":1.1,"c":11.8}]},"mark":{"type":"point","shape":"triangle-up","filled":true,"fill":"#fff","stroke":"#000","strokeWidth":1.5,"size":150,"opacity":1},"encoding":{
"x":{"field":"p","type":"quantitative","scale":{"domain":[-1,31]},"axis":{"orient":"top","zindex":1,"values":[1,2,3,4,6,7,8,9,11,12,13,14,16,17,18,19,21,22,23,24,26,27,28,29],"tickSize":-9,"labels":false}},
"y":{"field":"c","type":"quantitative","scale":{"domain":[9.4,12.5]},"axis":{"orient":"right","zindex":1,"values":[9.6,9.8,10.2,10.4,10.6,10.8,11.2,11.4,11.6,11.8,12.2,12.4],"tickSize":-9,"labels":false}}}},
{"data":{"values":[{"p":0.57,"lo":11.7,"hi":11.895}]},"mark":{"type":"rule","color":"#000","strokeWidth":1.5},"encoding":{"x":{"field":"p","type":"quantitative","scale":{"domain":[-1,31]},"axis":null},"y":{"field":"lo","type":"quantitative","scale":{"domain":[9.4,12.5]},"axis":null},"y2":{"field":"hi"}}},
{"data":{"values":[{"p":0.57,"e":11.7},{"p":0.57,"e":11.895}]},"mark":{"type":"tick","orient":"horizontal","size":12,"thickness":1.5,"color":"#000","opacity":1},"encoding":{"x":{"field":"p","type":"quantitative","scale":{"domain":[-1,31]},"axis":null},"y":{"field":"e","type":"quantitative","scale":{"domain":[9.4,12.5]},"axis":null}}},
{"data":{"values":[{"p":0.25,"c":11.77},{"p":1.5,"c":11.684},{"p":3.5,"c":11.585},{"p":4.5,"c":11.503},{"p":5.8,"c":11.375},{"p":7.1,"c":11.252},{"p":9,"c":11.137},{"p":11,"c":11.082},{"p":11.4,"c":11.085},{"p":13.2,"c":10.93},{"p":13.45,"c":10.925},{"p":14.8,"c":10.98},{"p":16.1,"c":10.927},{"p":17.6,"c":10.727},{"p":18.2,"c":10.77},{"p":7.1,"c":10.34},{"p":9,"c":10.267},{"p":11,"c":10.205},{"p":11.4,"c":10.205},{"p":13.2,"c":10.115},{"p":13.45,"c":10.11},{"p":14.8,"c":10.085},{"p":16.1,"c":10.02},{"p":17.6,"c":9.985},{"p":18.2,"c":9.937},{"p":21,"c":9.882},{"p":24.4,"c":9.828},{"p":26,"c":9.807},{"p":28.35,"c":9.763},{"p":29.25,"c":9.758}]},"mark":{"type":"point","filled":true,"fill":"#fff","stroke":"#000","strokeWidth":1.5,"size":155,"opacity":1},"encoding":{"x":{"field":"p","type":"quantitative","scale":{"domain":[-1,31]},"axis":null},"y":{"field":"c","type":"quantitative","scale":{"domain":[9.4,12.5]},"axis":null}}},
{"data":{"values":[{"p":28.4,"y":12.19,"t":"(a)"}]},"mark":{"type":"text","fontSize":32,"fontWeight":"bold","color":"#fff","baseline":"alphabetic"},"encoding":{"x":{"field":"p","type":"quantitative","scale":{"domain":[-1,31]},"axis":null},"y":{"field":"y","type":"quantitative","scale":{"domain":[9.4,12.5]},"axis":null},"text":{"field":"t"}}},
{"data":{"values":[{"p":21.4,"y":11.96,"t":"T"}]},"mark":{"type":"text","fontSize":30,"fontWeight":"bold","fontStyle":"italic","color":"#fff","align":"left","baseline":"alphabetic"},"encoding":{"x":{"field":"p","type":"quantitative","scale":{"domain":[-1,31]},"axis":null},"y":{"field":"y","type":"quantitative","scale":{"domain":[9.4,12.5]},"axis":null},"text":{"field":"t"}}},
{"data":{"values":[{"p":22.87,"y":11.96,"t":"= 7 K"}]},"mark":{"type":"text","fontSize":30,"fontWeight":"bold","color":"#fff","align":"left","baseline":"alphabetic"},"encoding":{"x":{"field":"p","type":"quantitative","scale":{"domain":[-1,31]},"axis":null},"y":{"field":"y","type":"quantitative","scale":{"domain":[9.4,12.5]},"axis":null},"text":{"field":"t"}}},
{"data":{"values":[{"p":-4.78,"y":10.73,"t":"c"}]},"mark":{"type":"text","fontSize":30,"fontStyle":"italic","angle":270,"align":"left","baseline":"alphabetic","color":"#000"},"encoding":{"x":{"field":"p","type":"quantitative","scale":{"domain":[-1,31]},"axis":null},"y":{"field":"y","type":"quantitative","scale":{"domain":[9.4,12.5]},"axis":null},"text":{"field":"t"}}},
{"data":{"values":[{"p":-4.78,"y":10.889,"t":"(Å)"}]},"mark":{"type":"text","fontSize":30,"angle":270,"align":"left","baseline":"alphabetic","color":"#000"},"encoding":{"x":{"field":"p","type":"quantitative","scale":{"domain":[-1,31]},"axis":null},"y":{"field":"y","type":"quantitative","scale":{"domain":[9.4,12.5]},"axis":null},"text":{"field":"t"}}},
{"data":{"values":[{"p0":-1,"p1":31,"y0":9.4,"y1":12.5}]},"mark":{"type":"rect","fill":"transparent","stroke":"#000","strokeWidth":1.5},"encoding":{"x":{"field":"p0","type":"quantitative","scale":{"domain":[-1,31]},"axis":null},"x2":{"field":"p1"},"y":{"field":"y0","type":"quantitative","scale":{"domain":[9.4,12.5]},"axis":null},"y2":{"field":"y1"}}}
],
"resolve":{"axis":{"x":"independent","y":"independent"}}},
{"width":620,"height":430,
"layer":[
{"data":{"values":[{"p0":0,"p1":30,"y0":3.78,"y1":4.02,"v":0.03}]},"mark":{"type":"rect"},"encoding":{
"x":{"field":"p0","type":"quantitative","scale":{"domain":[-1,31]},"axis":{"orient":"bottom","zindex":1,"values":[0,5,10,15,20,25,30],"tickSize":-13,"labels":false}},"x2":{"field":"p1"},
"y":{"field":"y0","type":"quantitative","scale":{"domain":[3.78,4.02]},"axis":{"orient":"left","zindex":1,"values":[3.8,3.9,4],"tickSize":-13,"labelPadding":25,"format":"~g"}},"y2":{"field":"y1"},
"color":{"field":"v","type":"quantitative","legend":null,"scale":{"type":"log","interpolate":"rgb","domain":[0.03,0.0805,0.267,0.6,1.07,2.37,5.13,10],"range":["#000080","#0000ff","#00ffff","#7fff7f","#ffff00","#ff8000","#ff0000","#800000"]}}}},
{"data":{"name":"heatB"},"transform":[{"lookup":"c","from":{"data":{"name":"cols"},"key":"c","fields":["p0","p1"]}},{"lookup":"y","from":{"data":{"name":"rowsB"},"key":"y","fields":["y0","y1"]}}],"mark":{"type":"rect","strokeWidth":0.8},"encoding":{
"x":{"field":"p0","type":"quantitative","scale":{"domain":[-1,31]},"axis":{"orient":"bottom","zindex":1,"values":[1,2,3,4,6,7,8,9,11,12,13,14,16,17,18,19,21,22,23,24,26,27,28,29],"tickSize":-9,"labels":false}},"x2":{"field":"p1"},
"y":{"field":"y0","type":"quantitative","scale":{"domain":[3.78,4.02]},"axis":{"orient":"left","zindex":1,"values":[3.82,3.84,3.86,3.88,3.92,3.94,3.96,3.98],"tickSize":-9,"labels":false}},"y2":{"field":"y1"},
"color":{"field":"v","type":"quantitative","legend":null,"scale":{"type":"log","interpolate":"rgb","domain":[0.03,0.0805,0.267,0.6,1.07,2.37,5.13,10],"range":["#000080","#0000ff","#00ffff","#7fff7f","#ffff00","#ff8000","#ff0000","#800000"]}},
"stroke":{"field":"v","type":"quantitative","legend":null,"scale":{"type":"log","interpolate":"rgb","domain":[0.03,0.0805,0.267,0.6,1.07,2.37,5.13,10],"range":["#000080","#0000ff","#00ffff","#7fff7f","#ffff00","#ff8000","#ff0000","#800000"]}}}},
{"data":{"name":"heatB"},"transform":[{"lookup":"c","from":{"data":{"name":"cols"},"key":"c","fields":["p0","p1"]}},{"lookup":"y","from":{"data":{"name":"rowsB"},"key":"y","fields":["s0","s1"]}}],"mark":{"type":"rect","opacity":0.5},"encoding":{
"x":{"field":"p0","type":"quantitative","scale":{"domain":[-1,31]},"axis":null},"x2":{"field":"p1"},
"y":{"field":"s0","type":"quantitative","scale":{"domain":[3.78,4.02]},"axis":null},"y2":{"field":"s1"},
"color":{"field":"v","type":"quantitative","legend":null,"scale":{"type":"log","interpolate":"rgb","domain":[0.03,0.0805,0.267,0.6,1.07,2.37,5.13,10],"range":["#000080","#0000ff","#00ffff","#7fff7f","#ffff00","#ff8000","#ff0000","#800000"]}}}},
{"data":{"values":[{"p":0.25,"a":3.9,"g":1},{"p":5.8,"a":3.876,"g":1},{"p":21,"a":3.88,"g":2},{"p":29.25,"a":3.846,"g":2}]},"mark":{"type":"line","color":"#fff","strokeWidth":4},"encoding":{
"x":{"field":"p","type":"quantitative","scale":{"domain":[-1,31]},"axis":{"orient":"top","zindex":1,"values":[0,5,10,15,20,25,30],"tickSize":-13,"labels":false}},
"y":{"field":"a","type":"quantitative","scale":{"domain":[3.78,4.02]},"axis":{"orient":"right","zindex":1,"values":[3.8,3.9,4],"tickSize":-13,"labels":false}},"detail":{"field":"g"}}},
{"data":{"name":"ptsB"},"mark":{"type":"rule","color":"#000","strokeWidth":1.5},"encoding":{
"x":{"field":"p","type":"quantitative","scale":{"domain":[-1,31]},"axis":{"orient":"top","zindex":1,"values":[1,2,3,4,6,7,8,9,11,12,13,14,16,17,18,19,21,22,23,24,26,27,28,29],"tickSize":-9,"labels":false}},
"y":{"field":"lo","type":"quantitative","scale":{"domain":[3.78,4.02]},"axis":{"orient":"right","zindex":1,"values":[3.82,3.84,3.86,3.88,3.92,3.94,3.96,3.98],"tickSize":-9,"labels":false}},"y2":{"field":"hi"}}},
{"data":{"name":"ptsB"},"mark":{"type":"tick","orient":"horizontal","size":12,"thickness":1.5,"color":"#000","opacity":1},"encoding":{"x":{"field":"p","type":"quantitative","scale":{"domain":[-1,31]},"axis":null},"y":{"field":"lo","type":"quantitative","scale":{"domain":[3.78,4.02]},"axis":null}}},
{"data":{"name":"ptsB"},"mark":{"type":"tick","orient":"horizontal","size":12,"thickness":1.5,"color":"#000","opacity":1},"encoding":{"x":{"field":"p","type":"quantitative","scale":{"domain":[-1,31]},"axis":null},"y":{"field":"hi","type":"quantitative","scale":{"domain":[3.78,4.02]},"axis":null}}},
{"data":{"name":"ptsB"},"mark":{"type":"point","filled":true,"fill":"#fff","stroke":"#000","strokeWidth":1.5,"size":155,"opacity":1},"encoding":{"x":{"field":"p","type":"quantitative","scale":{"domain":[-1,31]},"axis":null},"y":{"field":"a","type":"quantitative","scale":{"domain":[3.78,4.02]},"axis":null}}},
{"data":{"values":[{"p":28.4,"y":3.9955,"t":"(b)"}]},"mark":{"type":"text","fontSize":32,"fontWeight":"bold","color":"#fff","baseline":"alphabetic"},"encoding":{"x":{"field":"p","type":"quantitative","scale":{"domain":[-1,31]},"axis":null},"y":{"field":"y","type":"quantitative","scale":{"domain":[3.78,4.02]},"axis":null},"text":{"field":"t"}}},
{"data":{"values":[{"p":-4.78,"y":3.8829,"t":"a"}]},"mark":{"type":"text","fontSize":30,"fontStyle":"italic","angle":270,"align":"left","baseline":"alphabetic","color":"#000"},"encoding":{"x":{"field":"p","type":"quantitative","scale":{"domain":[-1,31]},"axis":null},"y":{"field":"y","type":"quantitative","scale":{"domain":[3.78,4.02]},"axis":null},"text":{"field":"t"}}},
{"data":{"values":[{"p":-4.78,"y":3.8968,"t":"(Å)"}]},"mark":{"type":"text","fontSize":30,"angle":270,"align":"left","baseline":"alphabetic","color":"#000"},"encoding":{"x":{"field":"p","type":"quantitative","scale":{"domain":[-1,31]},"axis":null},"y":{"field":"y","type":"quantitative","scale":{"domain":[3.78,4.02]},"axis":null},"text":{"field":"t"}}},
{"data":{"values":[{"p0":-1,"p1":31,"y0":3.78,"y1":4.02}]},"mark":{"type":"rect","fill":"transparent","stroke":"#000","strokeWidth":1.5},"encoding":{"x":{"field":"p0","type":"quantitative","scale":{"domain":[-1,31]},"axis":null},"x2":{"field":"p1"},"y":{"field":"y0","type":"quantitative","scale":{"domain":[3.78,4.02]},"axis":null},"y2":{"field":"y1"}}}
],
"resolve":{"axis":{"x":"independent","y":"independent"}}},
{"width":620,"height":430,
"layer":[
{"data":{"values":[{"p0":-1,"p1":31,"y0":2.5,"y1":3.1}]},"mark":{"type":"rect","color":{"gradient":"linear","x1":0,"y1":0,"x2":1,"y2":0,"stops":[{"offset":0,"color":"#0c08ff"},{"offset":0.5,"color":"#80008a"},{"offset":1,"color":"#ff0000"}]}},"encoding":{
"x":{"field":"p0","type":"quantitative","scale":{"domain":[-1,31]},"axis":{"orient":"bottom","zindex":1,"values":[0,5,10,15,20,25,30],"tickSize":-13,"labelPadding":23,"format":"d"}},"x2":{"field":"p1"},
"y":{"field":"y0","type":"quantitative","scale":{"domain":[2.5,3.1]},"axis":{"orient":"left","zindex":1,"values":[2.6,2.8,3],"tickSize":-13,"tickColor":"#e8e8e8","labelPadding":25,"format":"~g"}},"y2":{"field":"y1"}}},
{"data":{"name":"ptsC"},"mark":{"type":"rule","color":"#000","strokeWidth":1.5},"encoding":{
"x":{"field":"p","type":"quantitative","scale":{"domain":[-1,31]},"axis":{"orient":"bottom","zindex":1,"values":[1,2,3,4,6,7,8,9,11,12,13,14,16,17,18,19,21,22,23,24,26,27,28,29],"tickSize":-9,"labels":false}},
"y":{"field":"lo","type":"quantitative","scale":{"domain":[2.5,3.1]},"axis":{"orient":"left","zindex":1,"values":[2.55,2.65,2.7,2.75,2.85,2.9,2.95,3.05],"tickSize":-9,"tickColor":"#e8e8e8","labels":false}},"y2":{"field":"hi"}}},
{"data":{"name":"ptsC"},"mark":{"type":"tick","orient":"horizontal","size":12,"thickness":1.5,"color":"#000","opacity":1},"encoding":{
"x":{"field":"p","type":"quantitative","scale":{"domain":[-1,31]},"axis":{"orient":"top","zindex":1,"values":[0,5,10,15,20,25,30],"tickSize":-13,"labels":false}},
"y":{"field":"lo","type":"quantitative","scale":{"domain":[2.5,3.1]},"axis":{"orient":"right","zindex":1,"values":[2.6,2.8,3],"tickSize":-13,"tickColor":"#e8e8e8","labels":false}}}},
{"data":{"name":"ptsC"},"mark":{"type":"tick","orient":"horizontal","size":12,"thickness":1.5,"color":"#000","opacity":1},"encoding":{
"x":{"field":"p","type":"quantitative","scale":{"domain":[-1,31]},"axis":{"orient":"top","zindex":1,"values":[1,2,3,4,6,7,8,9,11,12,13,14,16,17,18,19,21,22,23,24,26,27,28,29],"tickSize":-9,"labels":false}},
"y":{"field":"hi","type":"quantitative","scale":{"domain":[2.5,3.1]},"axis":{"orient":"right","zindex":1,"values":[2.55,2.65,2.7,2.75,2.85,2.9,2.95,3.05],"tickSize":-9,"tickColor":"#e8e8e8","labels":false}}}},
{"data":{"name":"ptsC"},"mark":{"type":"point","filled":true,"fill":"#fff","stroke":"#000","strokeWidth":1.5,"opacity":1},"encoding":{"x":{"field":"p","type":"quantitative","scale":{"domain":[-1,31]},"axis":null},"y":{"field":"r","type":"quantitative","scale":{"domain":[2.5,3.1]},"axis":null},"size":{"field":"w","type":"quantitative","legend":null,"scale":{"type":"pow","exponent":2,"domain":[0,25],"range":[0,470]}}}},
{"data":{"values":[{"p":28.4,"y":3.0367,"t":"(c)"}]},"mark":{"type":"text","fontSize":32,"fontWeight":"bold","color":"#fff","baseline":"alphabetic"},"encoding":{"x":{"field":"p","type":"quantitative","scale":{"domain":[-1,31]},"axis":null},"y":{"field":"y","type":"quantitative","scale":{"domain":[2.5,3.1]},"axis":null},"text":{"field":"t"}}},
{"data":{"values":[{"p":-4.78,"y":2.7744,"t":"c/a"}]},"mark":{"type":"text","fontSize":30,"fontStyle":"italic","angle":270,"align":"left","baseline":"alphabetic","color":"#000"},"encoding":{"x":{"field":"p","type":"quantitative","scale":{"domain":[-1,31]},"axis":null},"y":{"field":"y","type":"quantitative","scale":{"domain":[2.5,3.1]},"axis":null},"text":{"field":"t"}}},
{"data":{"values":[{"p":12.28,"y":2.3907,"t":"p"}]},"mark":{"type":"text","fontSize":30,"fontStyle":"italic","align":"left","baseline":"alphabetic","color":"#000"},"encoding":{"x":{"field":"p","type":"quantitative","scale":{"domain":[-1,31]},"axis":null},"y":{"field":"y","type":"quantitative","scale":{"domain":[2.5,3.1]},"axis":null},"text":{"field":"t"}}},
{"data":{"values":[{"p":13.67,"y":2.3907,"t":"(GPa)"}]},"mark":{"type":"text","fontSize":30,"align":"left","baseline":"alphabetic","color":"#000"},"encoding":{"x":{"field":"p","type":"quantitative","scale":{"domain":[-1,31]},"axis":null},"y":{"field":"y","type":"quantitative","scale":{"domain":[2.5,3.1]},"axis":null},"text":{"field":"t"}}},
{"data":{"values":[{"p0":-1,"p1":31,"y0":2.5,"y1":3.1}]},"mark":{"type":"rect","fill":"transparent","stroke":"#000","strokeWidth":1.5},"encoding":{"x":{"field":"p0","type":"quantitative","scale":{"domain":[-1,31]},"axis":null},"x2":{"field":"p1"},"y":{"field":"y0","type":"quantitative","scale":{"domain":[2.5,3.1]},"axis":null},"y2":{"field":"y1"}}}
],
"resolve":{"axis":{"x":"independent","y":"independent"}}}
]
}
